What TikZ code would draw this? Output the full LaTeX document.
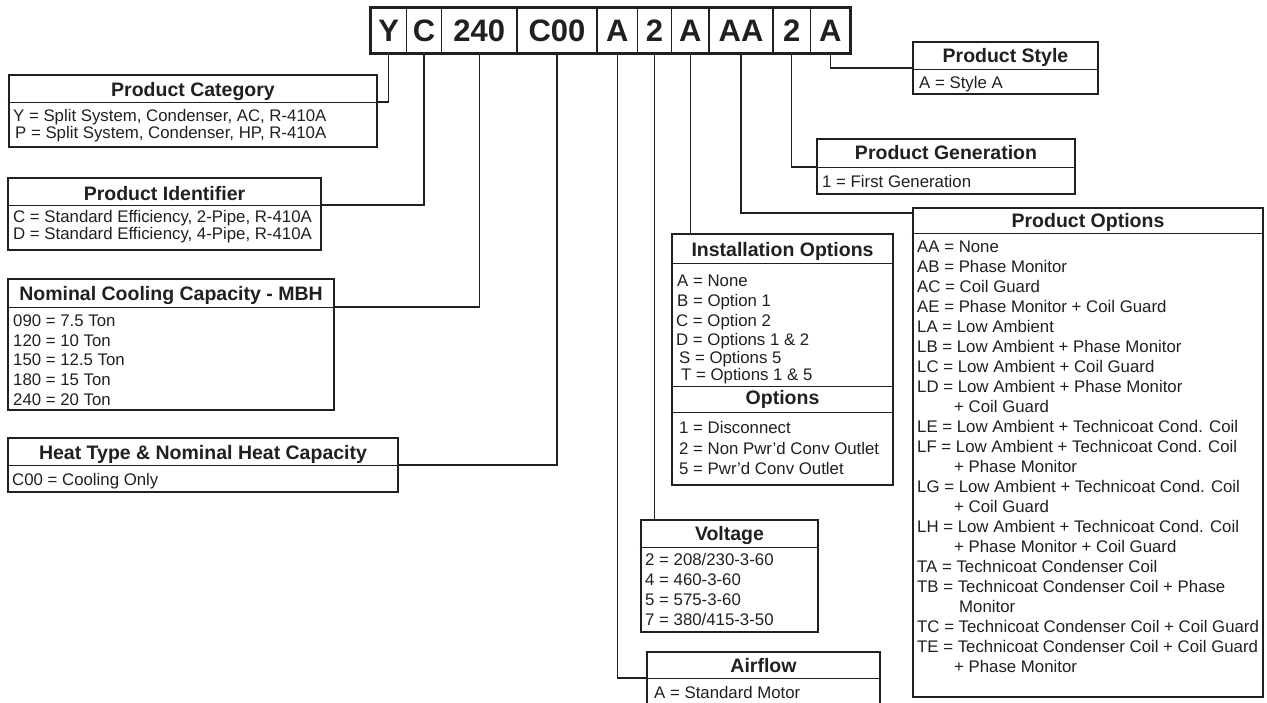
\documentclass[tikz,border=0pt]{standalone}
\usepackage{fontspec}
\setmainfont{Liberation Sans}
\definecolor{ink}{RGB}{35,31,32}
\begin{document}
\begin{tikzpicture}[x=1pt,y=-1pt,
  box/.style={draw=ink,line width=2.6pt,inner sep=0pt},
  div/.style={draw=ink,line width=1pt},
  conn/.style={draw=ink,line width=1.2pt},
  ttl/.style={inner sep=0pt,text=ink,font=\fontsize{19.5}{22}\selectfont\bfseries,anchor=base},
  bd/.style={inner sep=0pt,text=ink,font=\fontsize{16.8}{20}\selectfont,anchor=base west},
  cell/.style={draw=ink,line width=1.2pt,inner sep=0pt,minimum height=45pt,text height=22pt,text depth=0pt,font=\fontsize{31}{31}\selectfont\bfseries,text=ink},
]
\useasboundingbox (0,0) rectangle (1267,702);
\clip (0,0) rectangle (1267,702);
\fill[white] (0,0) rectangle (1267,702);

% code cells
\node[cell,minimum width=35.5pt] (cY)   at (388.75,30.5) {Y};
\node[cell,minimum width=35pt]   (cC)   at (424,30.5) {C};
\node[cell,minimum width=75.5pt] (c240) at (479.25,30.5) {240};
\node[cell,minimum width=80pt]   (cC00) at (557,30.5) {C00};
\node[cell,minimum width=40.5pt] (cA1)  at (617.25,30.5) {A};
\node[cell,minimum width=34pt]   (c2a)  at (654.5,30.5) {2};
\node[cell,minimum width=37.5pt] (cA2)  at (690.25,30.5) {A};
\node[cell,minimum width=64pt]   (cAA)  at (741,30.5) {AA};
\node[cell,minimum width=37.5pt] (c2b)  at (791.75,30.5) {2};
\node[cell,minimum width=39.5pt] (cA3)  at (830.25,30.5) {A};
\draw[draw=ink,line width=3pt] (cY.north west) rectangle (cA3.south east);

% boxes
\node[box,minimum width=368pt,minimum height=72pt] (pcat) at (193,111) {};
\node[box,minimum width=313pt,minimum height=72pt] (pid) at (164.5,214) {};
\node[box,minimum width=326pt,minimum height=131pt] (ncc) at (171,344.5) {};
\node[box,minimum width=390pt,minimum height=54pt] (heat) at (203,465) {};
\node[box,minimum width=221pt,minimum height=251pt] (inst) at (782.5,359.5) {};
\node[box,minimum width=177pt,minimum height=112pt] (volt) at (729.5,576) {};
\node[box,minimum width=233pt,minimum height=60pt] (air) at (763.5,682) {};
\node[box,minimum width=185pt,minimum height=52pt] (pstyle) at (1005.5,68) {};
\node[box,minimum width=258pt,minimum height=55pt] (pgen) at (946,166.5) {};
\node[box,minimum width=350pt,minimum height=489pt] (popt) at (1088,452.5) {};

% dividers
\draw[div] (pcat.west |- 0,102) -- (pcat.east |- 0,102);
\draw[div] (pid.west |- 0,205) -- (pid.east |- 0,205);
\draw[div] (ncc.west |- 0,307) -- (ncc.east |- 0,307);
\draw[div] (heat.west |- 0,465) -- (heat.east |- 0,465);
\draw[div] (inst.west |- 0,263) -- (inst.east |- 0,263);
\draw[div] (inst.west |- 0,386) -- (inst.east |- 0,386);
\draw[div] (inst.west |- 0,412) -- (inst.east |- 0,412);
\draw[div] (volt.west |- 0,547) -- (volt.east |- 0,547);
\draw[div] (air.west |- 0,678) -- (air.east |- 0,678);
\draw[div] (pstyle.west |- 0,69) -- (pstyle.east |- 0,69);
\draw[div] (pgen.west |- 0,167) -- (pgen.east |- 0,167);
\draw[div] (popt.west |- 0,233) -- (popt.east |- 0,233);

% junction coordinates
\coordinate (jpcat) at (pcat.east |- 0,102);
\coordinate (jpid) at (pid.east |- 0,205);
\coordinate (jncc) at (ncc.east |- 0,307);
\coordinate (jheat) at (heat.east |- 0,465);
\coordinate (jair) at (air.west |- 0,678);
\coordinate (jpopt) at (popt.west |- 0,213);
\coordinate (jpgen) at (pgen.west |- 0,167);
\coordinate (jpstyle) at (pstyle.west |- 0,68);

% connectors
\draw[conn] (cY.south) |- (jpcat);
\draw[conn] (cC.south) |- (jpid);
\draw[conn] (c240.south) |- (jncc);
\draw[conn] (cC00.south) |- (jheat);
\draw[conn] (cA1.south) |- (jair);
\draw[conn] (c2a.south) -- (c2a.south |- volt.north);
\draw[conn] (cA2.south) -- (cA2.south |- inst.north);
\draw[conn] (cAA.south) |- (jpopt);
\draw[conn] (c2b.south) |- (jpgen);
\draw[conn] (cA3.south) |- (jpstyle);

% titles
\node[ttl] (tpcat) at (193,96) {Product Category};
\node[ttl] (tpid) at (164.5,200) {Product Identifier};
\node[ttl] (tncc) at (171,300) {Nominal Cooling Capacity - MBH};
\node[ttl] (theat) at (203,459) {Heat Type \& Nominal Heat Capacity};
\node[ttl] (tinst) at (782.5,256) {Installation Options};
\node[ttl] (topt) at (782.5,404) {Options};
\node[ttl] (tvolt) at (729.5,540) {Voltage};
\node[ttl] (tair) at (763.5,672) {Airflow};
\node[ttl] (tpstyle) at (1005.5,62) {Product Style};
\node[ttl] (tpgen) at (946,159) {Product Generation};
\node[ttl] (tpopt) at (1088,227) {Product Options};

% body lines
\node[bd] (pc1) at (13,121) {Y = Split System, Condenser, AC, R-410A};
\node[bd] (pc2) at (15,138) {P = Split System, Condenser, HP, R-410A};
\node[bd] (pi1) at (13,222) {C = Standard Efficiency, 2-Pipe, R-410A};
\node[bd] (pi2) at (13,239) {D = Standard Efficiency, 4-Pipe, R-410A};
\node[bd] (nc1) at (13,326) {090 = 7.5 Ton};
\node[bd] (nc2) at (13,346) {120 = 10 Ton};
\node[bd] (nc3) at (13,365) {150 = 12.5 Ton};
\node[bd] (nc4) at (13,385) {180 = 15 Ton};
\node[bd] (nc5) at (13,405) {240 = 20 Ton};
\node[bd] (ht1) at (12,485) {C00 = Cooling Only};
\node[bd] (io1) at (677,286) {A = None};
\node[bd] (io2) at (677,306) {B = Option 1};
\node[bd] (io3) at (676,326) {C = Option 2};
\node[bd] (io4) at (676,345) {D = Options 1 \& 2};
\node[bd] (io5) at (679,363) {S = Options 5};
\node[bd] (io6) at (681,380) {T = Options 1 \& 5};
\node[bd] (op1) at (679,433) {1 = Disconnect};
\node[bd] (op2) at (679,454) {2 = Non Pwr’d Conv Outlet};
\node[bd] (op3) at (679,474) {5 = Pwr’d Conv Outlet};
\node[bd] (vo1) at (645,565) {2 = 208/230-3-60};
\node[bd] (vo2) at (645,585) {4 = 460-3-60};
\node[bd] (vo3) at (645,605) {5 = 575-3-60};
\node[bd] (vo4) at (645,625) {7 = 380/415-3-50};
\node[bd] (af1) at (654,698) {A = Standard Motor};
\node[bd] (ps1) at (919,88) {A = Style A};
\node[bd] (pg1) at (822,187) {1 = First Generation};
\foreach \n/\x/\y/\t in {
  1/917/246/{AA = None},
  2/917/266/{AB = Phase Monitor},
  3/917/286/{AC = Coil Guard},
  4/917/306/{AE = Phase Monitor + Coil Guard},
  5/917/326/{LA = Low Ambient},
  6/917/346/{LB = Low Ambient + Phase Monitor},
  7/917/366/{LC = Low Ambient + Coil Guard},
  8/917/386/{LD = Low Ambient + Phase Monitor},
  9/954/406/{+ Coil Guard},
  10/917/426/{LE = Low Ambient + Technicoat Cond. Coil},
  11/917/446/{LF = Low Ambient + Technicoat Cond. Coil},
  12/954/466/{+ Phase Monitor},
  13/917/486/{LG = Low Ambient + Technicoat Cond. Coil},
  14/954/506/{+ Coil Guard},
  15/917/526/{LH = Low Ambient + Technicoat Cond. Coil},
  16/954/546/{+ Phase Monitor + Coil Guard},
  17/917/566/{TA = Technicoat Condenser Coil},
  18/917/586/{TB = Technicoat Condenser Coil + Phase},
  19/959/606/{Monitor},
  20/917/626/{TC = Technicoat Condenser Coil + Coil Guard},
  21/917/646/{TE = Technicoat Condenser Coil + Coil Guard},
  22/954/666/{+ Phase Monitor}}
  \node[bd] (po\n) at (\x,\y+6) {\t};
\end{tikzpicture}
\end{document}
